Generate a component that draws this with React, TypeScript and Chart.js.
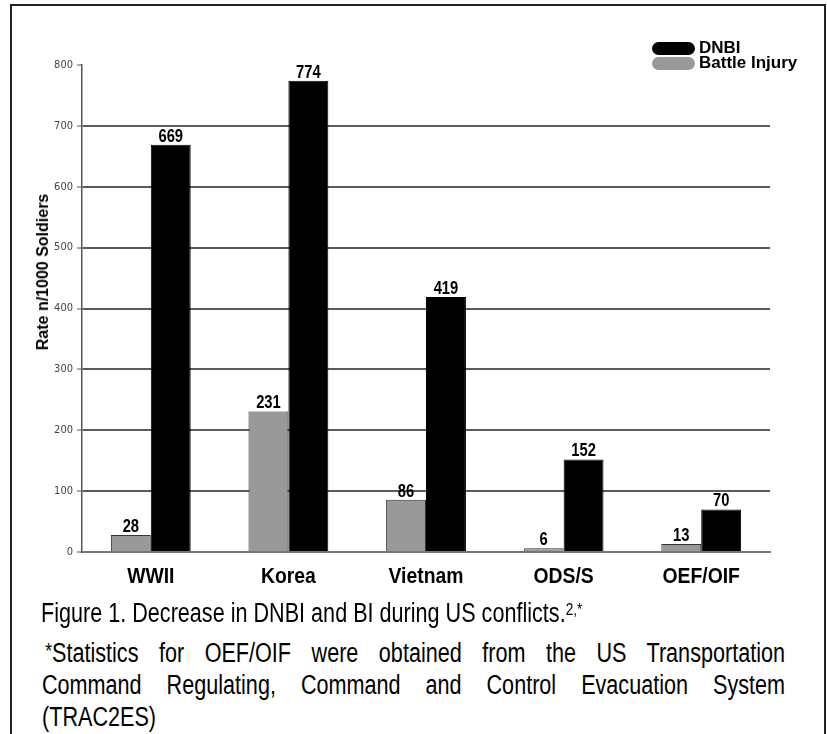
import { useEffect, useRef } from "react";
import { Chart, registerables } from "chart.js";

Chart.register(...registerables);

const categories = ["WWII", "Korea", "Vietnam", "ODS/S", "OEF/OIF"];
const battleInjury = [28, 231, 86, 6, 13];
const dnbi = [669, 774, 419, 152, 70];
const yMin = 0;
const yMax = 800;
const yStep = 100;
const seriesNames = ["Battle Injury", "DNBI"];
const yTitle = "Rate n/1000 Soldiers";

const SANS = "'Liberation Sans', Arial, sans-serif";
const COND = "'DejaVu Sans Condensed', 'Liberation Sans', sans-serif";

const GRAY = "#999999";
const BLACK = "#000000";

// draws text horizontally compressed, like a narrow typeface
function narrowText(ctx: CanvasRenderingContext2D, text: string, x: number, y: number, sx: number) {
  ctx.save();
  ctx.translate(x, y);
  ctx.scale(sx, 1);
  ctx.fillText(text, 0, 0);
  ctx.restore();
}

const narrowLabels = {
  id: "narrowLabels",
  afterDatasetsDraw(chart: any) {
    const ctx = chart.ctx as CanvasRenderingContext2D;
    ctx.save();
    ctx.fillStyle = "#000";
    ctx.textAlign = "center";
    ctx.textBaseline = "alphabetic";
    ctx.font = `bold 18px ${SANS}`;
    chart.data.datasets.forEach((ds: any, i: number) => {
      const meta = chart.getDatasetMeta(i);
      meta.data.forEach((el: any, j: number) => {
        narrowText(ctx, String(ds.data[j]), el.x, el.y - 3, 0.82);
      });
    });
    const xs = chart.scales.x;
    ctx.font = `bold 22px ${SANS}`;
    xs.ticks.forEach((_t: any, i: number) => {
      const label = String(chart.data.labels[i]);
      narrowText(ctx, label, xs.getPixelForTick(i), xs.top + 31, 0.88);
    });
    ctx.restore();
  },
};

export default function App() {
  const ref = useRef<HTMLCanvasElement | null>(null);

  useEffect(() => {
    if (!ref.current) return;
    const chart = new Chart(ref.current, {
      type: "bar",
      data: {
        labels: categories,
        datasets: [
          {
            label: seriesNames[0],
            data: battleInjury,
            backgroundColor: GRAY,
            borderColor: "#333",
            borderWidth: 1,
            categoryPercentage: 0.58,
            barPercentage: 1,
          },
          {
            label: seriesNames[1],
            data: dnbi,
            backgroundColor: BLACK,
            borderColor: "#000",
            borderWidth: 1,
            categoryPercentage: 0.58,
            barPercentage: 1,
          },
        ],
      },
      options: {
        animation: false,
        responsive: false,
        events: [],
        layout: { padding: { left: 0, right: 57, top: 65, bottom: 0 } },
        plugins: {
          legend: { display: false },
          tooltip: { enabled: false },
        },
        scales: {
          x: {
            grid: { display: false, drawTicks: false },
            border: { display: true, color: "#777", width: 2 },
            ticks: { display: false },
            afterFit: (axis: any) => {
              axis.height = 48;
            },
          },
          y: {
            min: yMin,
            max: yMax,
            ticks: {
              stepSize: yStep,
              font: { family: COND, size: 11 },
              color: "#444",
              padding: 4,
            },
            grid: {
              color: (c: any) =>
                c.tick && (c.tick.value === yMin || c.tick.value === yMax) ? "rgba(0,0,0,0)" : "#5a5a5a",
              lineWidth: 2,
              tickLength: 5,
              tickColor: "#555",
              tickWidth: 1,
            },
            border: { display: true, color: "#555", width: 1.5 },
            afterFit: (axis: any) => {
              axis.width = 82;
            },
          },
        },
      },
      plugins: [narrowLabels],
    } as any);
    return () => chart.destroy();
  }, []);

  const SX = 0.8;
  const capLine: React.CSSProperties = {
    position: "absolute",
    left: 42,
    fontFamily: SANS,
    fontSize: 27,
    lineHeight: "32px",
    color: "#000",
    whiteSpace: "nowrap",
    transform: `scaleX(${SX})`,
    transformOrigin: "0 0",
  };
  const justified: React.CSSProperties = {
    ...capLine,
    width: 743 / SX,
    whiteSpace: "normal",
    textAlign: "justify",
    textAlignLast: "justify" as any,
  };
  const legendText: React.CSSProperties = {
    position: "absolute",
    left: 699,
    fontFamily: SANS,
    fontWeight: "bold",
    fontSize: 17,
    lineHeight: "17px",
    whiteSpace: "nowrap",
    color: "#000",
  };

  return (
    <div
      style={{
        position: "absolute",
        left: 0,
        top: 0,
        width: 827,
        height: 734,
        background: "#fff",
        overflow: "hidden",
      }}
    >
      <div
        style={{
          position: "absolute",
          left: 10,
          top: 4,
          width: 812,
          height: 760,
          borderTop: "2px solid #222",
          borderLeft: "2px solid #222",
          borderRight: "2px solid #222",
        }}
      />
      <canvas
        ref={ref}
        width={827}
        height={600}
        style={{ position: "absolute", left: 0, top: 0, width: 827, height: 600 }}
      />
      <div
        style={{
          position: "absolute",
          left: 42.5,
          top: 272,
          transform: "translate(-50%, -50%) rotate(-90deg)",
          fontFamily: SANS,
          fontWeight: "bold",
          fontSize: 16,
          lineHeight: "16px",
          whiteSpace: "nowrap",
          color: "#000",
        }}
      >
        {yTitle}
      </div>
      <div
        style={{
          position: "absolute",
          left: 652,
          top: 42,
          width: 43,
          height: 13,
          borderRadius: 6.5,
          background: BLACK,
        }}
      />
      <div
        style={{
          position: "absolute",
          left: 652,
          top: 57,
          width: 43,
          height: 13,
          borderRadius: 6.5,
          background: GRAY,
        }}
      />
      <div style={{ ...legendText, top: 38.6 }}>{seriesNames[1]}</div>
      <div style={{ ...legendText, top: 53.6 }}>{seriesNames[0]}</div>
      <div style={{ ...capLine, left: 41, top: 596.6 }}>
        Figure 1. Decrease in DNBI and BI during US conflicts.
        <span style={{ fontSize: 17, verticalAlign: "top", position: "relative", top: -3 }}>2,*</span>
      </div>
      <div style={{ ...justified, top: 637 }}>
        <span style={{ fontSize: 22, verticalAlign: "top", position: "relative", top: -2, marginLeft: 4 }}>*</span>
        Statistics for OEF/OIF were obtained from the US Transportation
      </div>
      <div style={{ ...justified, top: 669 }}>
        Command Regulating, Command and Control Evacuation System
      </div>
      <div style={{ ...capLine, top: 700.6 }}>(TRAC2ES)</div>
    </div>
  );
}
